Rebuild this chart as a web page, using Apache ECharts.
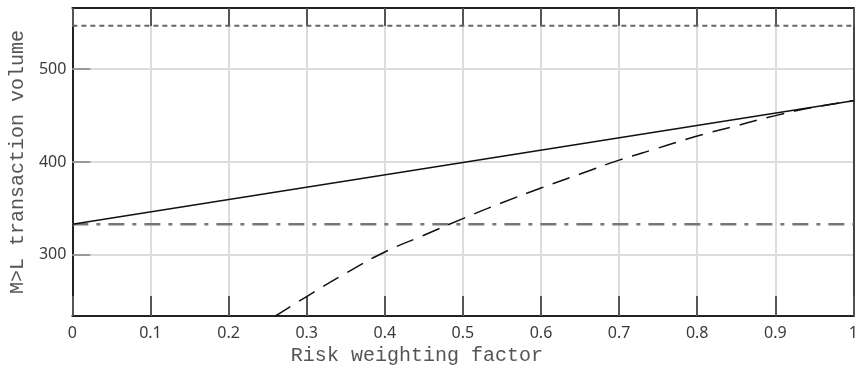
<!DOCTYPE html>
<html>
<head>
<meta charset="utf-8">
<script src="https://cdn.jsdelivr.net/npm/echarts@6/dist/echarts.min.js"></script>
<style>html,body{margin:0;padding:0;background:#fff}#c{width:861px;height:372px}</style>
</head>
<body>
<div id="c"></div>
<script>
// ---- data ----
const xTicks = [0, 0.1, 0.2, 0.3, 0.4, 0.5, 0.6, 0.7, 0.8, 0.9, 1];
const yTicks = [300, 400, 500];
const solidX = [0, 1];
const solidY = [333, 466];
const dashedX = [0.26, 0.3, 0.35, 0.4, 0.45, 0.5, 0.55, 0.6, 0.65, 0.7, 0.75, 0.8, 0.85, 0.9, 0.95, 1];
const dashedY = [234, 255, 280, 303, 321, 339, 356, 372, 387, 402, 415, 428, 439, 450, 459, 466];
const dashDotX = [0, 1];
const dashDotY = [333, 333];
const dottedX = [0, 1];
const dottedY = [547, 547];
const xName = 'Risk weighting factor';
const yName = 'M>L transaction volume';

const pairs = (xs, ys) => xs.map((x, i) => [x, ys[i]]);

const chart = echarts.init(document.getElementById('c'));
const lblFont = { color: '#3a3a3a', fontFamily: 'Noto Sans', fontSize: 16 };
chart.setOption({
  animation: false,
  grid: { left: 72, right: 4, top: 8, bottom: 56 },
  xAxis: [{
    type: 'value', min: 0, max: 1, interval: 0.1,
    axisLine: { show: true, onZero: false, lineStyle: { color: '#222', width: 2 } },
    axisTick: { show: true, inside: true, length: 20, lineStyle: { color: '#555', width: 2 } },
    axisLabel: Object.assign({ margin: 9, formatter: v => String(+v.toFixed(1)) }, lblFont),
    splitLine: { show: true, lineStyle: { color: '#dcdcdc', width: 2 } },
    name: xName, nameLocation: 'middle', nameGap: 30,
    nameTextStyle: { fontFamily: 'Liberation Mono', fontSize: 20, color: '#555', padding: [0, 92, 0, 0] }
  }, {
    type: 'value', position: 'top', min: 0, max: 1, interval: 0.1,
    axisLine: { show: true, onZero: false, lineStyle: { color: '#222', width: 2 } },
    axisTick: { show: true, inside: true, length: 18, lineStyle: { color: '#555', width: 2 } },
    axisLabel: { show: false }, splitLine: { show: false }
  }],
  yAxis: [{
    type: 'value', min: 234, max: 566, splitNumber: 3,
    axisLine: { show: true, onZero: false, lineStyle: { color: '#222', width: 2 } },
    axisTick: { show: true, inside: true, length: 18, lineStyle: { color: '#999', width: 2 } },
    axisLabel: Object.assign({ margin: 6, showMinLabel: false, showMaxLabel: false,
      formatter: v => yTicks.includes(v) ? String(v) : '' }, lblFont),
    splitLine: { show: true, lineStyle: { color: '#dcdcdc', width: 2 } },
    name: yName, nameLocation: 'middle', nameGap: 42,
    nameTextStyle: { fontFamily: 'Liberation Mono', fontSize: 20, color: '#555' }
  }, {
    type: 'value', position: 'right', min: 234, max: 566, splitNumber: 3,
    axisLine: { show: true, onZero: false, lineStyle: { color: '#444', width: 2 } },
    axisTick: { show: false }, axisLabel: { show: false }, splitLine: { show: false }
  }],
  series: [
    { type: 'line', data: pairs(dottedX, dottedY), symbol: 'none', silent: true,
      lineStyle: { color: '#666', width: 2, type: [5, 4] } },
    { type: 'line', data: pairs(dashDotX, dashDotY), symbol: 'none', silent: true,
      lineStyle: { color: '#777', width: 2.5, type: [16, 8, 4, 8] } },
    { type: 'line', data: pairs(solidX, solidY), symbol: 'none', silent: true,
      lineStyle: { color: '#111', width: 1.5 } },
    { type: 'line', data: pairs(dashedX, dashedY), symbol: 'none', smooth: true, silent: true,
      lineStyle: { color: '#111', width: 1.5, type: [18, 10] } }
  ]
});
</script>
</body>
</html>
